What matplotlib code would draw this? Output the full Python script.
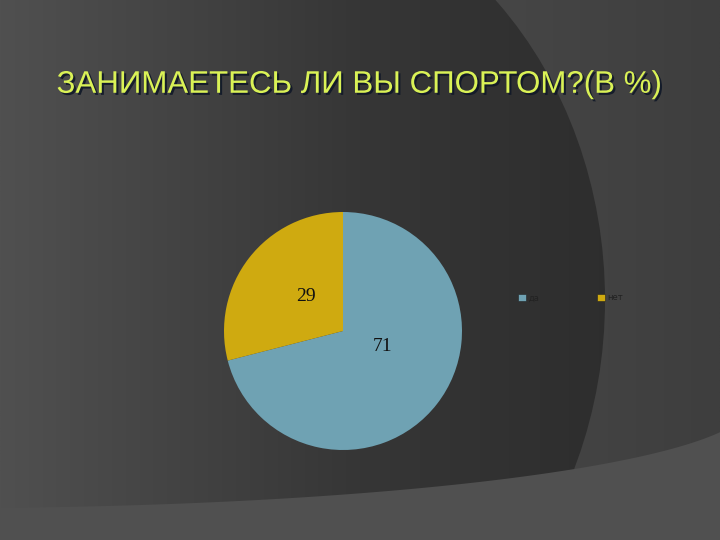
import numpy as np
import matplotlib
matplotlib.use('Agg')
import matplotlib.pyplot as plt
import matplotlib.patheffects as pe
from matplotlib.colors import LinearSegmentedColormap
from matplotlib.patches import Ellipse, Patch

TITLE = 'ЗАНИМАЕТЕСЬ ЛИ ВЫ СПОРТОМ?(В %)'
CATEGORIES = ['да', 'нет']
VALUES = [71, 29]
COLORS = ['#6FA2B3', '#CFAA10']

W, H = 720, 540

fig = plt.figure(figsize=(7.2, 5.4), dpi=100)

# slide background
bg = fig.add_axes([0, 0, 1, 1])
bg.set_xlim(0, W)
bg.set_ylim(H, 0)
bg.axis('off')

grad = np.tile(np.linspace(0, 1, 256), (2, 1))
bg.imshow(grad, extent=(0, W, H, 0), aspect='auto',
          cmap=LinearSegmentedColormap.from_list('a', ['#585858', '#3e3e3e']), zorder=0)

# big dark shape with its own gradient
shape = Ellipse((240, 300), 730, 840, facecolor='none', edgecolor='none')
bg.add_patch(shape)
im = bg.imshow(grad, extent=(0, W, H, 0), aspect='auto',
               cmap=LinearSegmentedColormap.from_list('b', ['#505050', '#363636', '#2a2a2a']),
               zorder=1)
im.set_clip_path(shape)

# lighter band at the bottom
bx = np.linspace(0, W, 200)
by = 404 + 104 * np.sqrt(np.clip(1 - ((bx + 50) / 800) ** 2, 0, 1))
bg.fill_between(bx, by, H, color='#505050', zorder=2, lw=0)

# title
fig.text(0.499, 0.843, TITLE, ha='center', va='center', fontsize=22.5,
         family=['Liberation Sans'], color='#DAF256',
         path_effects=[pe.withSimplePatchShadow(offset=(1.5, -1.5),
                                                shadow_rgbFace='#101828', alpha=0.9)])

# pie
cx, cy, r = 343, 331, 119
ax = fig.add_axes([(cx - r) / W, (H - cy - r) / H, 2 * r / W, 2 * r / H])
wedges, _ = ax.pie(VALUES, colors=COLORS, startangle=90, counterclock=False,
                   wedgeprops=dict(edgecolor='none', linewidth=0))
ax.set_xlim(-1, 1)
ax.set_ylim(-1, 1)
ax.set_aspect('equal')

ax.text(0.33, -0.13, str(VALUES[0]), ha='center', va='center', fontsize=14,
        family='Liberation Serif', color='#111111')
ax.text(-0.31, 0.29, str(VALUES[1]), ha='center', va='center', fontsize=14,
        family='Liberation Serif', color='#111111')

handles = [Patch(facecolor=c, edgecolor='#222222', lw=0.4) for c in COLORS]
fig.legend(handles, CATEGORIES, loc='center left', bbox_to_anchor=(514 / W, 1 - 298 / H),
           ncol=2, frameon=False, fontsize=6, labelcolor='#222222',
           handlelength=0.9, handleheight=0.9, handletextpad=0.3,
           columnspacing=7.0, borderpad=0)

fig.savefig('out.png', dpi=100)
